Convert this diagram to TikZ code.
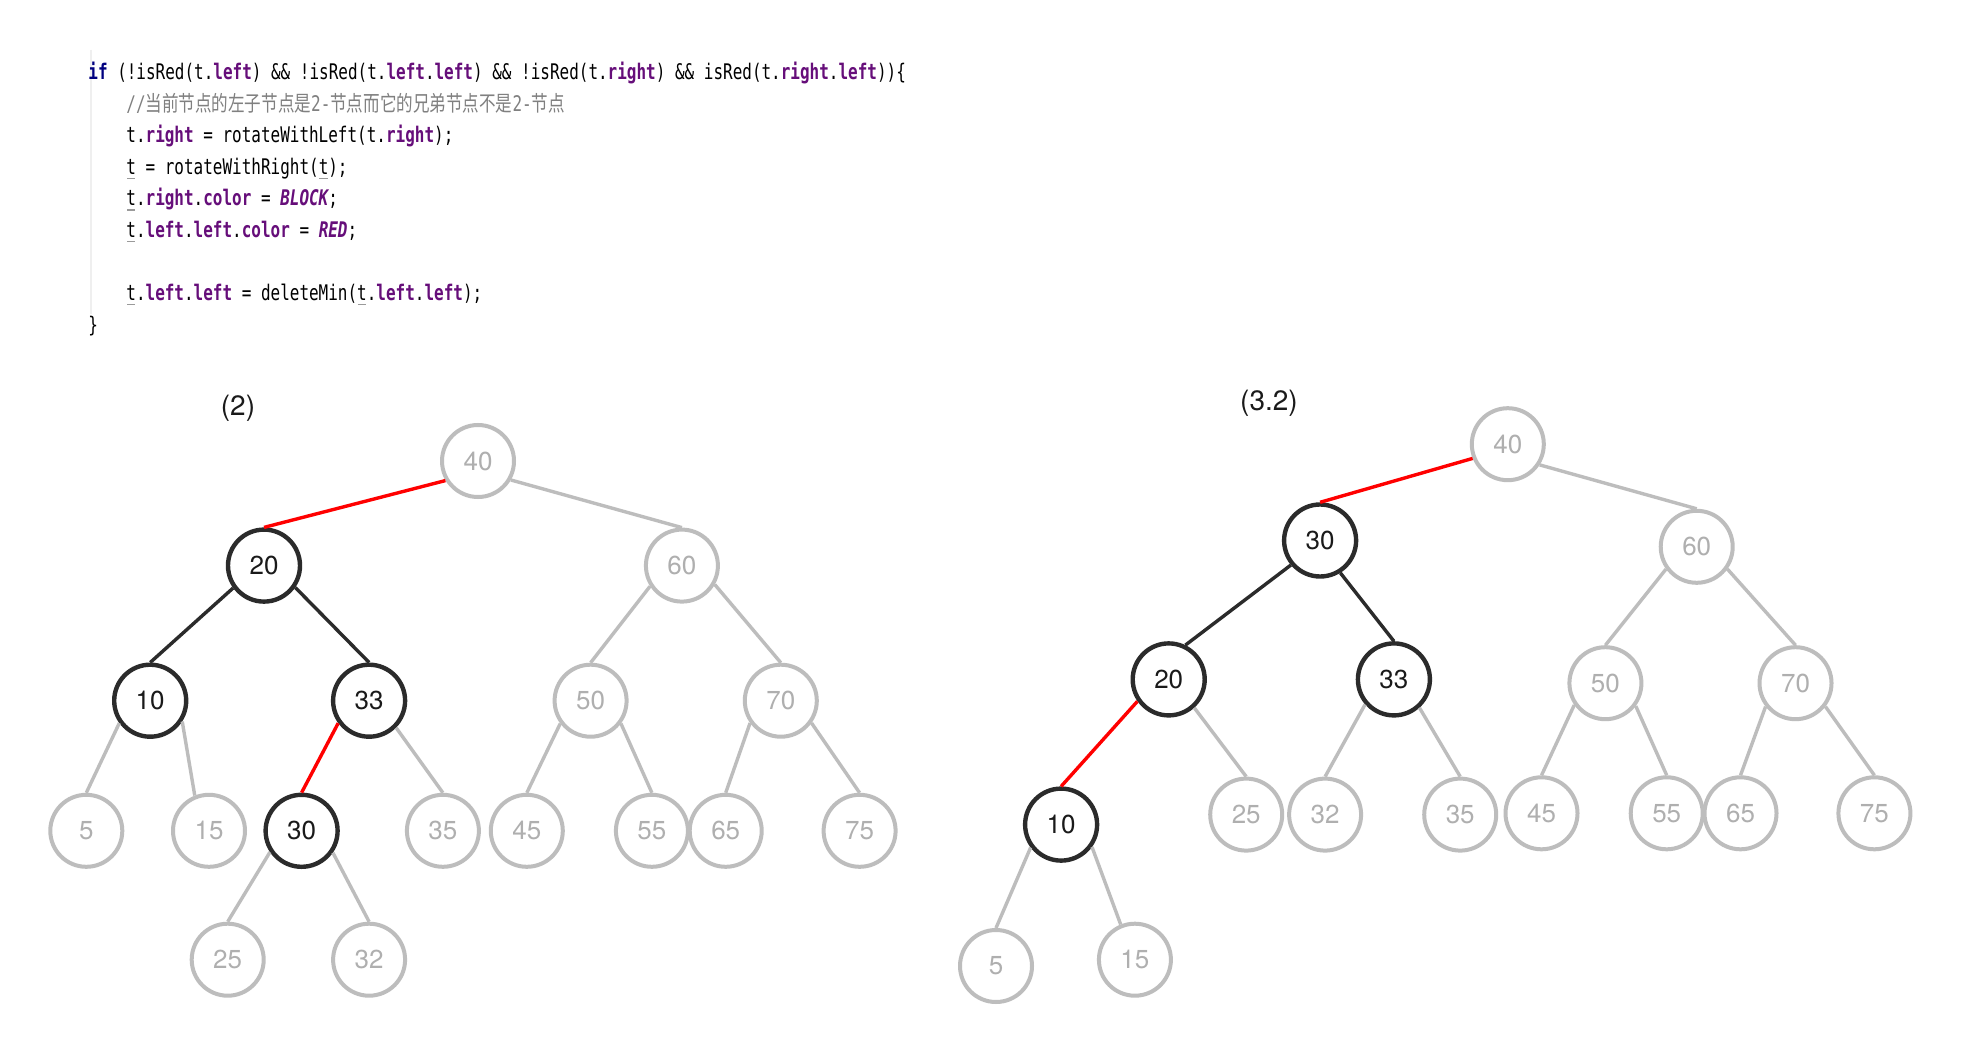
\documentclass[tikz,border=0pt]{standalone}
\usepackage{fontspec}
\usepackage{xcolor}
\newfontfamily\codefont[FakeStretch=0.743]{DejaVu Sans Mono}
\newfontfamily\cjkfont[FakeStretch=0.77]{Noto Sans CJK SC}
\newfontfamily\numfont{TeX Gyre Heros}
\definecolor{kwc}{HTML}{000080}
\definecolor{fldc}{HTML}{660E7A}
\definecolor{cmtc}{HTML}{808080}
\definecolor{ugray}{HTML}{9A9A9A}
\definecolor{guide}{HTML}{EFEFEF}
\definecolor{treegray}{HTML}{BDBDBD}
\definecolor{numgray}{HTML}{AFAFAF}
\definecolor{treeblack}{HTML}{2B2B2B}
\definecolor{numblack}{HTML}{1A1A1A}
\definecolor{edgered}{HTML}{FF0000}
\newcommand\cKw[1]{\textcolor{kwc}{\bfseries #1}}
\newcommand\cFd[1]{\textcolor{fldc}{\bfseries #1}}
\newcommand\cCs[1]{\textcolor{fldc}{\bfseries\itshape #1}}
\newcommand\cUt{\makebox[0pt][l]{\hspace{0.3pt}\textcolor{ugray}{\rule[-2.4pt]{4.2pt}{0.6pt}}}t}
\newcommand\cZh[1]{{\cjkfont #1}}
\tikzset{
  gnode/.style={circle, draw=treegray, line width=2pt, minimum size=36pt, inner sep=0pt,
    fill=white, text=numgray, font=\numfont\fontsize{13pt}{13pt}\selectfont},
  bnode/.style={gnode, draw=treeblack, text=numblack, line width=2.2pt},
  gedge/.style={draw=treegray, line width=1.7pt},
  bedge/.style={draw=treeblack, line width=1.7pt},
  redge/.style={draw=edgered, line width=1.7pt},
  codeline/.style={anchor=base west, inner sep=0pt, font=\codefont\fontsize{10.75pt}{13pt}\selectfont},
  caption/.style={inner sep=0pt, text=numblack, font=\numfont\fontsize{14pt}{14pt}\selectfont}
}
\begin{document}
\begin{tikzpicture}[x=0.5pt,y=-0.5pt]
\fill[white] (0,0) rectangle (1962,1052);
\useasboundingbox (0,0) rectangle (1962,1052);

% ---------- code ----------
\coordinate (gtop) at (91,50);
\coordinate (gbot) at (91,314);
\draw[guide, line width=0.6pt] (gtop) -- (gbot);
\node[codeline] (c1) at (88,79.5) {\cKw{if} (!isRed(t.\cFd{left}) \&\& !isRed(t.\cFd{left}.\cFd{left}) \&\& !isRed(t.\cFd{right}) \&\& isRed(t.\cFd{right}.\cFd{left}))\{};
\node[codeline, text=cmtc] (c2) at (126,111.1) {//\cZh{当前节点的左子节点是}2-\cZh{节点而它的兄弟节点不是}2-\cZh{节点}};
\node[codeline] (c3) at (126,142.7) {t.\cFd{right} = rotateWithLeft(t.\cFd{right});};
\node[codeline] (c4) at (126,174.3) {\cUt{} = rotateWithRight(\cUt);};
\node[codeline] (c5) at (126,205.9) {\cUt.\cFd{right}.\cFd{color} = \cCs{BLOCK};};
\node[codeline] (c6) at (126,237.5) {\cUt.\cFd{left}.\cFd{left}.\cFd{color} = \cCs{RED};};
\node[codeline] (c8) at (126,300.7) {\cUt.\cFd{left}.\cFd{left} = deleteMin(\cUt.\cFd{left}.\cFd{left});};
\node[codeline] (c9) at (88,332.3) {\}};

% ---------- captions ----------
\node[caption] (cap2) at (238,408) {(2)};
\node[caption] (cap32) at (1269,403) {(3.2)};

% ---------- left tree (2) ----------
\node[gnode] (L40) at (478,461) {40};
\node[bnode] (L20) at (264,565.6) {20};
\node[gnode] (L60) at (681.9,565.6) {60};
\node[bnode] (L10) at (150.2,700.7) {10};
\node[bnode] (L33) at (369.1,700.7) {33};
\node[gnode] (L50) at (590.6,700.7) {50};
\node[gnode] (L70) at (780.8,700.7) {70};
\node[gnode] (L5) at (86.3,830.8) {5};
\node[gnode] (L15) at (209,830.8) {15};
\node[bnode] (L30) at (301.6,830.8) {30};
\node[gnode] (L35) at (442.9,830.8) {35};
\node[gnode] (L45) at (526.8,830.8) {45};
\node[gnode] (L55) at (651.9,830.8) {55};
\node[gnode] (L65) at (725.7,830.8) {65};
\node[gnode] (L75) at (859.6,830.8) {75};
\node[gnode] (L25) at (227.7,959.7) {25};
\node[gnode] (L32) at (369.1,959.7) {32};

\draw[redge] (L40.211) -- (L20.north);
\draw[gedge] (L40.330) -- (L60.north);
\draw[bedge] (L20.216) -- (L10.north);
\draw[bedge] (L20.325) -- (L33.north);
\draw[gedge] (L60.213) -- (L50.north);
\draw[gedge] (L60.330) -- (L70.north);
\draw[gedge] (L10.216) -- (L5.north);
\draw[gedge] (L10.327) -- (L15.112);
\draw[redge] (L33.216) -- (L30.north);
\draw[gedge] (L33.315) -- (L35.north);
\draw[gedge] (L50.217) -- (L45.north);
\draw[gedge] (L50.323) -- (L55.north);
\draw[gedge] (L70.216) -- (L65.north);
\draw[gedge] (L70.324) -- (L75.north);
\draw[gedge] (L30.214) -- (L25.north);
\draw[gedge] (L30.325) -- (L32.north);

% ---------- right tree (3.2) ----------
\node[gnode] (R40) at (1507.8,444.2) {40};
\node[bnode] (R30) at (1320.1,540.5) {30};
\node[gnode] (R60) at (1696.7,546.8) {60};
\node[bnode] (R20) at (1168.7,679.4) {20};
\node[bnode] (R33) at (1393.9,679.4) {33};
\node[gnode] (R50) at (1605.4,683.2) {50};
\node[gnode] (R70) at (1795.5,683.2) {70};
\node[bnode] (R10) at (1061.1,824.6) {10};
\node[gnode] (R25) at (1246.2,814.6) {25};
\node[gnode] (R32) at (1325.1,814.6) {32};
\node[gnode] (R35) at (1460.2,814.6) {35};
\node[gnode] (R45) at (1541.5,813.3) {45};
\node[gnode] (R55) at (1666.7,813.3) {55};
\node[gnode] (R65) at (1740.5,813.3) {65};
\node[gnode] (R75) at (1874.4,813.3) {75};
\node[gnode] (R5) at (996,966) {5};
\node[gnode] (R15) at (1134.9,959.7) {15};

\draw[redge] (R40.202) -- (R30.north);
\draw[gedge] (R40.327) -- (R60.north);
\draw[bedge] (R30.220) -- (R20.64);
\draw[bedge] (R30.302) -- (R33.north);
\draw[gedge] (R60.216) -- (R50.north);
\draw[gedge] (R60.324) -- (R70.north);
\draw[redge] (R20.215) -- (R10.north);
\draw[gedge] (R20.312) -- (R25.north);
\draw[gedge] (R33.221) -- (R32.north);
\draw[gedge] (R33.312) -- (R35.north);
\draw[gedge] (R50.215) -- (R45.north);
\draw[gedge] (R50.323) -- (R55.north);
\draw[gedge] (R70.218) -- (R65.north);
\draw[gedge] (R70.322) -- (R75.north);
\draw[gedge] (R10.217) -- (R5.north);
\draw[gedge] (R10.324) -- (R15.112);
\end{tikzpicture}
\end{document}
